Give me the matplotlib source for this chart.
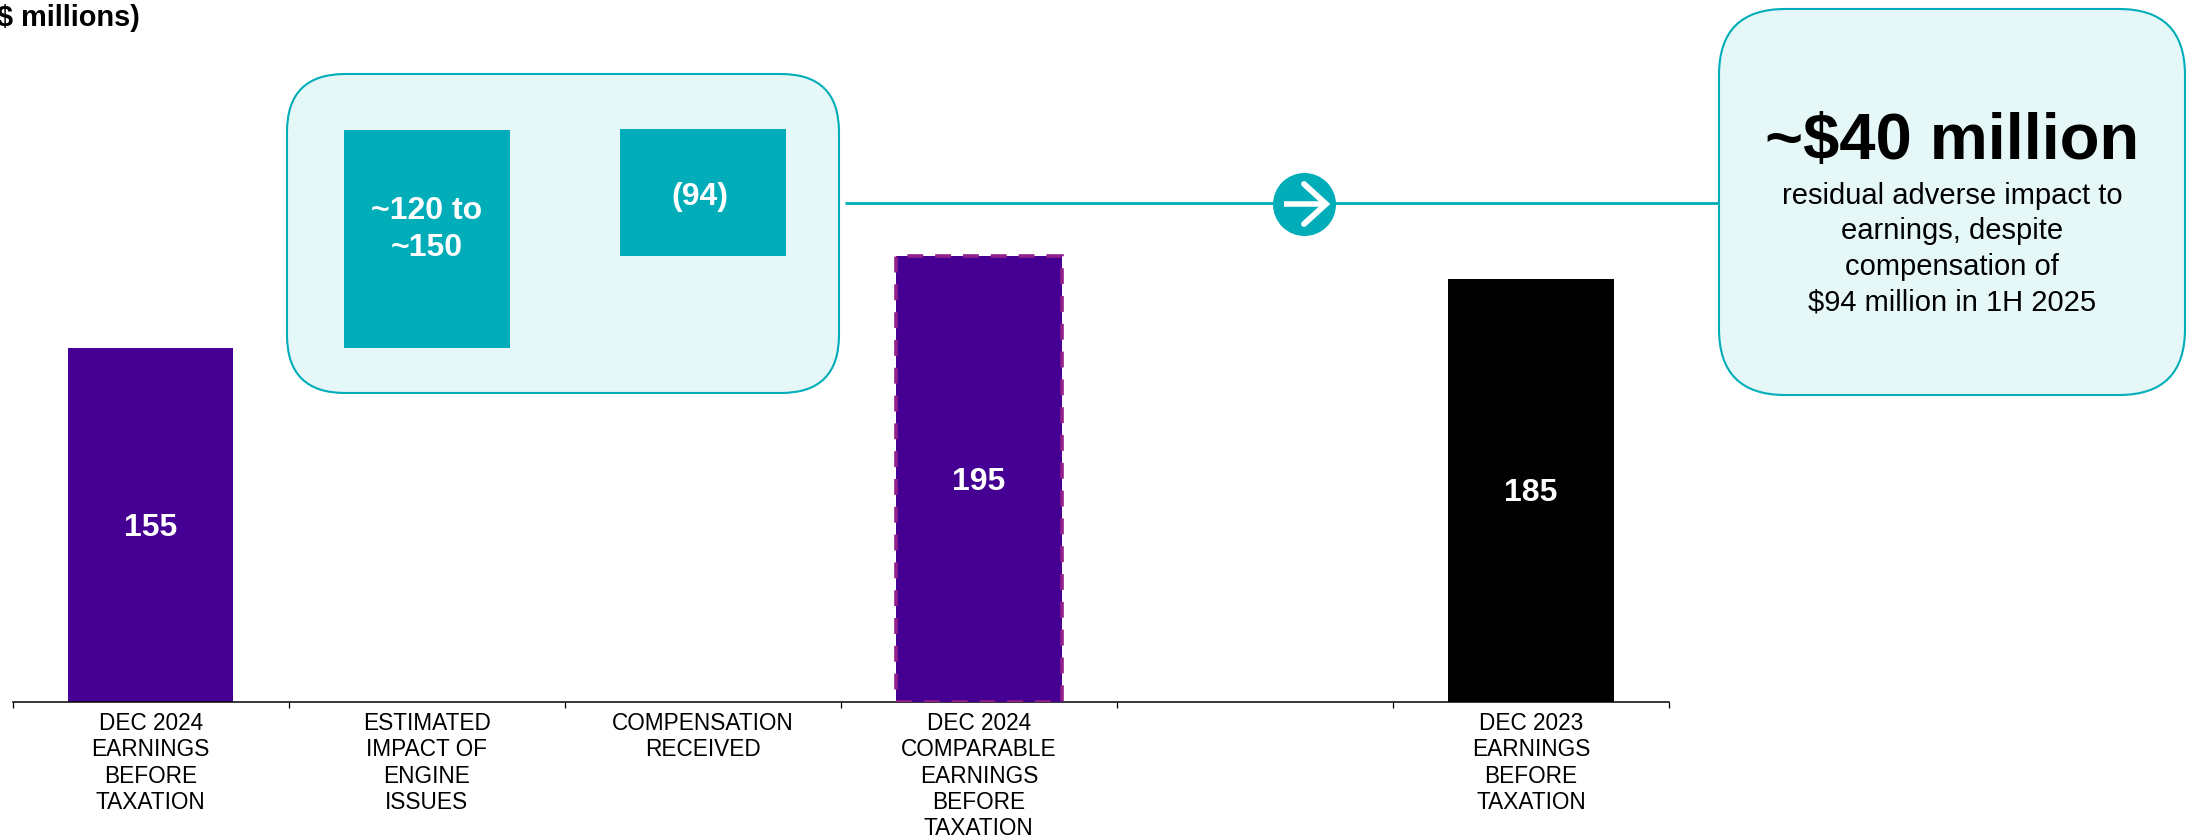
import numpy as np
import matplotlib
matplotlib.use("Agg")
import matplotlib.pyplot as plt
from matplotlib.patches import FancyBboxPatch, Circle

plt.rcParams['font.family'] = ['Liberation Sans', 'DejaVu Sans']

categories = ["DEC 2024\nEARNINGS\nBEFORE\nTAXATION",
              "ESTIMATED\nIMPACT OF\nENGINE\nISSUES",
              "COMPENSATION\nRECEIVED",
              "DEC 2024\nCOMPARABLE\nEARNINGS\nBEFORE\nTAXATION",
              "",
              "DEC 2023\nEARNINGS\nBEFORE\nTAXATION"]
bar_bottoms = [0, 155, 195, 0, 0, 0]
bar_heights = [155, 95, 55.5, 195, 0, 185]
bar_labels = ["155", "~120 to\n~150", "(94)", "195", "", "185"]
label_shift = [-3, 9, -4, -3, 0, -3]  # px upward, teal labels sit off centre
label_nudge = [0, 0, -3, 0, 0, 0]  # px sideways

PURPLE = "#450093"
TEAL = "#00ADB8"
LIGHT = "#E5F7F7"
DASH = "#92208A"
bar_colors = [PURPLE, TEAL, TEAL, PURPLE, "none", "black"]

W, H = 2195, 838
fig = plt.figure(figsize=(W / 100, H / 100), dpi=100, facecolor="white")

# background layer in image pixels, for the callouts
bg = fig.add_axes([0, 0, 1, 1], zorder=0)
bg.set_xlim(0, W)
bg.set_ylim(H, 0)
bg.axis("off")


def callout(x0, y0, x1, y1, r):
    bg.add_patch(FancyBboxPatch((x0 + r, y0 + r), x1 - x0 - 2 * r, y1 - y0 - 2 * r,
                                boxstyle=f"round,pad={r},rounding_size={r}",
                                fc=LIGHT, ec=TEAL, lw=1.5))


callout(287, 74, 839, 393, 58)
callout(1719, 9, 2185, 395, 66)

bg.plot([845, 1719], [203, 203], color=TEAL, lw=2, solid_capstyle="butt")
bg.add_patch(Circle((1304.5, 204.5), 31.5, fc=TEAL, ec="none", zorder=3))
bg.plot([1284, 1326], [204, 204], color="white", lw=4, solid_capstyle="butt", zorder=4)
bg.plot([1304, 1326, 1304], [184, 204, 224], color="white", lw=4.2,
        solid_capstyle="round", solid_joinstyle="miter", zorder=4)

bg.text(-3, 18, "$ millions)", fontsize=20.9, fontweight="bold", ha="left", va="center",
        parse_math=False)
bg.text(1952, 142, "~$40 million", fontsize=46.9, fontweight="bold", ha="center", va="center",
        parse_math=False)
bg.text(1952, 249, "residual adverse impact to\nearnings, despite\ncompensation of\n$94 million in 1H 2025",
        fontsize=21, ha="center", va="center", linespacing=1.34, parse_math=False)

# chart layer
x = np.arange(len(categories))
ax = fig.add_axes([12.6 / W, (H - 702) / H, (1669 - 12.6) / W, 702 / H], zorder=1)
ax.patch.set_alpha(0)
bars = ax.bar(x, bar_heights, width=0.6, bottom=bar_bottoms, color=bar_colors, zorder=2)
bars[3].set(edgecolor=DASH, linewidth=2.6, linestyle=(0, (4.4, 3.3)), zorder=3)
bars[3].set_capstyle("butt")

ax.set_xlim(-0.5, 5.5)
ax.set_ylim(0, 702 / 2.287)
ax.set_yticks([])
for s in ["top", "left", "right"]:
    ax.spines[s].set_visible(False)
ax.spines["bottom"].set_linewidth(1.1)
ax.set_xticks(np.arange(-0.5, 6, 1), [""] * 7)
ax.tick_params(axis="x", which="major", length=4.5, width=0.9, direction="out")
ax.set_xticks(x, categories, minor=True)
ax.tick_params(axis="x", which="minor", length=0, pad=7.5, labelsize=16.3)
for t in ax.get_xticklabels(minor=True):
    t.set_linespacing(1.17)

for i, lab in enumerate(bar_labels):
    if lab:
        ax.annotate(lab, (x[i], bar_bottoms[i] + bar_heights[i] / 2),
                    xytext=(label_nudge[i] * 0.72, label_shift[i] * 0.72), textcoords="offset points",
                    ha="center", va="center", color="white", fontsize=23,
                    fontweight="bold", zorder=5, linespacing=1.3)

fig.savefig("out.png", dpi=100)
